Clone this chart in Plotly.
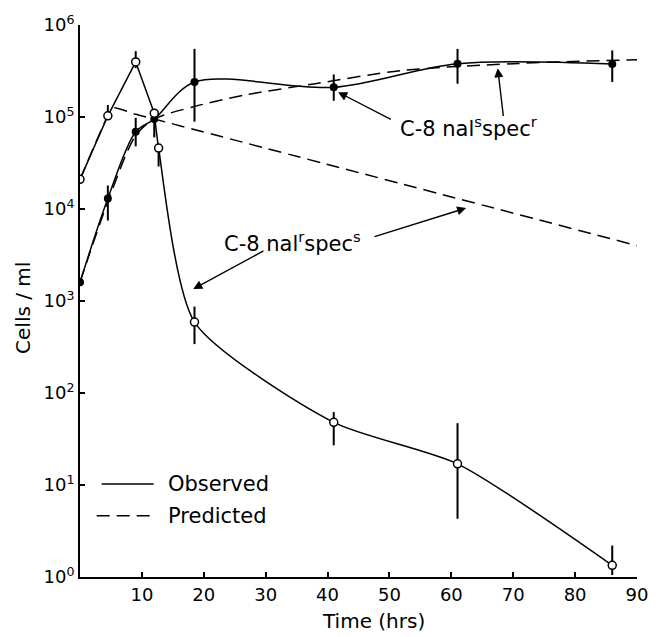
import math
import plotly.graph_objects as go

# Observed counts, strain C-8 nal^r spec^s (open circles)
t_nalR = [0, 4.5, 9, 12, 12.7, 18.5, 41, 61, 86]
obs_nalR = [2.1e4, 1.03e5, 3.97e5, 1.1e5, 4.6e4, 590, 48, 17, 1.34]
obs_nalR_hi = [2.1e4, 1.35e5, 5.2e5, 1.1e5, 5.0e4, 870, 62, 47, 2.2]
obs_nalR_lo = [2.1e4, 0.95e5, 3.4e5, 1.1e5, 2.9e4, 340, 27, 4.3, 1.05]

# Observed counts, strain C-8 nal^s spec^r (filled circles)
t_nalS = [0, 4.5, 9, 12, 18.5, 41, 61, 86]
obs_nalS = [1.6e3, 1.3e4, 6.9e4, 9.5e4, 2.4e5, 2.1e5, 3.8e5, 3.76e5]
obs_nalS_hi = [1.6e3, 1.8e4, 9.8e4, 1.2e5, 5.5e5, 2.9e5, 5.5e5, 5.3e5]
obs_nalS_lo = [1.6e3, 7.5e3, 4.8e4, 6.0e4, 8.9e4, 1.5e5, 2.3e5, 2.4e5]

# Predicted curves
pred_t_nalS = [0, 4.5, 9, 12, 18.5, 27, 38, 52, 70, 90]
pred_nalS = [1.6e3, 1.2e4, 6.3e4, 9.5e4, 1.3e5, 1.75e5, 2.3e5, 3.2e5, 3.8e5, 4.2e5]
pred_t_nalR = [0, 4.5, 5.5, 9, 12, 90]
pred_nalR = [2.1e4, 1.03e5, 1.26e5, 1.07e5, 9.5e4, 4.0e3]

x_ticks = [10, 20, 30, 40, 50, 60, 70, 80, 90]
y_ticks = [1, 10, 100, 1e3, 1e4, 1e5, 1e6]
y_ticktext = ["10<sup>%d</sup>" % i for i in range(7)]

FONT = "DejaVu Sans"
DASH = "13px,7px"
BLACK = "black"


def errs(v, hi, lo):
    up = [h - x for x, h in zip(v, hi)]
    dn = [x - l for x, l in zip(v, lo)]
    return dict(type="data", symmetric=False, array=up, arrayminus=dn,
                color=BLACK, thickness=2, width=0)


fig = go.Figure()

# predicted (dashed)
fig.add_trace(go.Scatter(x=pred_t_nalS, y=pred_nalS, mode="lines",
                         line=dict(color=BLACK, width=1.5, dash=DASH, shape="spline", smoothing=0.8),
                         showlegend=False))
fig.add_trace(go.Scatter(x=pred_t_nalR, y=pred_nalR, mode="lines",
                         line=dict(color=BLACK, width=1.5, dash=DASH, shape="spline", smoothing=0.5),
                         showlegend=False))

# observed (solid): straight rise to the peak, smooth decline afterwards
k = t_nalR.index(12)
fig.add_trace(go.Scatter(x=t_nalR[:k + 1], y=obs_nalR[:k + 1], mode="lines",
                         line=dict(color=BLACK, width=1.5), showlegend=False))
fig.add_trace(go.Scatter(x=t_nalR[k:], y=obs_nalR[k:], mode="lines",
                         line=dict(color=BLACK, width=1.5, shape="spline", smoothing=0.65),
                         showlegend=False))
fig.add_trace(go.Scatter(x=t_nalS, y=obs_nalS, mode="lines",
                         line=dict(color=BLACK, width=1.5, shape="spline", smoothing=0.9),
                         showlegend=False))

# data points with error bars
fig.add_trace(go.Scatter(x=t_nalS, y=obs_nalS, mode="markers",
                         marker=dict(symbol="circle", size=8, color=BLACK),
                         error_y=errs(obs_nalS, obs_nalS_hi, obs_nalS_lo), showlegend=False))
fig.add_trace(go.Scatter(x=t_nalR, y=obs_nalR, mode="markers",
                         marker=dict(symbol="circle", size=8, color="white",
                                     line=dict(color=BLACK, width=1.5)),
                         error_y=errs(obs_nalR, obs_nalR_hi, obs_nalR_lo), showlegend=False))

X0, X1 = 80, 647
Y0, Y1 = 577, 19


def px_x(p):
    return (p - X0) / (X1 - X0) * 90


def px_ly(p):
    return (Y0 - p) / (Y0 - Y1) * 6


def xpix(t):
    return X0 + t / 90 * (X1 - X0)


def ypix(v):
    return Y0 - math.log10(v) / 6 * (Y0 - Y1)


def paper(px, py):
    return (px - X0) / (X1 - X0), (Y0 - py) / (Y0 - Y1)


lab = dict(family=FONT, size=21, color=BLACK)
ann = []

# strain labels
ann.append(dict(x=px_x(476), y=px_ly(122), xref="x", yref="y", showarrow=False,
                xanchor="center", yanchor="middle",
                text="C-8 nal<sup>s</sup>spec<sup>r</sup>", font=lab))
ann.append(dict(x=px_x(296), y=px_ly(238), xref="x", yref="y", showarrow=False,
                xanchor="center", yanchor="middle",
                text="C-8 nal<sup>r</sup>spec<sup>s</sup>", font=lab))

# arrows: (head in data coords, tail in pixels)
arrows = [
    ((41.7, 10 ** 5.27), (397, 115)),
    ((67.5, 10 ** 5.53), (511, 112)),
    ((62.4, 10 ** 4.01), (380, 233)),
    ((18.3, 10 ** 3.13), (267, 247)),
]
for (ht, hv), (tx, ty) in arrows:
    hx, hy = xpix(ht), ypix(hv)
    ann.append(dict(x=ht, y=math.log10(hv), xref="x", yref="y", text="",
                    showarrow=True, arrowhead=2, arrowsize=1.3, arrowwidth=1.4,
                    arrowcolor=BLACK, ax=tx - hx, ay=ty - hy, standoff=0))

# axis titles
tx_, ty_ = paper(379, 621)
ann.append(dict(x=tx_, y=ty_, xref="paper", yref="paper", xanchor="center", yanchor="middle",
                showarrow=False, text="Time (hrs)",
                font=dict(family=FONT, size=20, color=BLACK)))
tx_, ty_ = paper(22, 305)
ann.append(dict(x=tx_, y=ty_, xref="paper", yref="paper", xanchor="center", yanchor="middle",
                showarrow=False, textangle=-90, text="Cells / ml",
                font=dict(family=FONT, size=20, color=BLACK)))

# key
shapes = []
for label, dash, yy, xa, xb in [("Observed", "solid", 483, 102, 155),
                                 ("Predicted", DASH, 515, 97, 157)]:
    xa_p, py = paper(xa, yy)
    xb_p, _ = paper(xb, yy)
    shapes.append(dict(type="line", xref="paper", yref="paper",
                       x0=xa_p, x1=xb_p, y0=py, y1=py,
                       line=dict(color=BLACK, width=1.5, dash=dash)))
    lx, _ = paper(168, yy)
    ann.append(dict(x=lx, y=py, xref="paper", yref="paper",
                    xanchor="left", yanchor="middle", showarrow=False, text=label,
                    font=dict(family=FONT, size=21, color=BLACK)))

axis_common = dict(showline=True, linecolor=BLACK, linewidth=2, ticks="inside",
                   ticklen=5, tickwidth=1.5, tickcolor=BLACK, showgrid=False,
                   zeroline=False, tickfont=dict(family=FONT, size=18, color=BLACK))

fig.update_layout(
    width=660, height=637,
    margin=dict(l=X0, r=660 - X1, t=Y1, b=637 - Y0),
    paper_bgcolor="white", plot_bgcolor="white",
    xaxis=dict(range=[0, 90], tickvals=x_ticks, **axis_common),
    yaxis=dict(type="log", range=[0, 6], tickvals=y_ticks, ticktext=y_ticktext,
               **axis_common),
    annotations=ann, shapes=shapes, showlegend=False,
)

fig.write_html("out.html")
